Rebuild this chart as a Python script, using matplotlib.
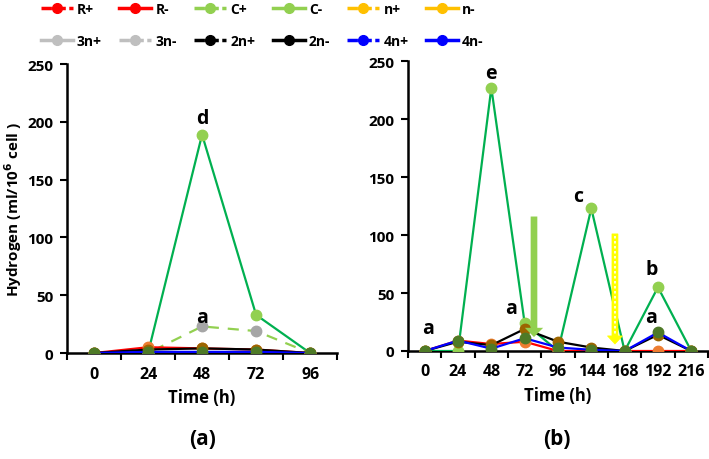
import matplotlib
matplotlib.use('Agg')
from matplotlib import pyplot as plt
from matplotlib.lines import Line2D
from matplotlib.patches import FancyArrow
import numpy as np

plt.rcParams['font.family'] = ['Open Sans', 'DejaVu Sans']
plt.rcParams['font.weight'] = 'bold'

# panel (a)
times_a = ['0', '24', '48', '72', '96']
green_a = [0, 0, 189, 33, 0]
dashed_a = [0, 0, 23, 19, 0]
red_a = [0, 5, 4, 3, 0]
black_a = [0, 3, 4, 3, 0]
blue_a = [0, 1, 1, 1, 0]

# panel (b)
times_b = ['0', '24', '48', '72', '96', '144', '168', '192', '216']
green_b = [0, 0, 227, 24, 0, 123, 0, 55, 0]
red_b = [0, 9, 6, 8, 0, 0, 0, 0, 0]
black_b = [0, 8, 5, 19, 8, 3, 0, 14, 0]
blue_b = [0, 9, 2, 11, 3, 1, 0, 16, 0]

legend_names = ['R+', 'R-', 'C+', 'C-', 'n+', 'n-', '3n+', '3n-', '2n+', '2n-', '4n+', '4n-']
legend_colors = ['#FF0000', '#FF0000', '#92D050', '#92D050', '#FFC000', '#FFC000',
                 '#BFBFBF', '#BFBFBF', '#000000', '#000000', '#0000FF', '#0000FF']
legend_dashed = [True, False, True, False, True, False, False, True, True, False, True, False]

C_LINE = '#00B050'
C_LMK = '#92D050'
C_ORANGE = '#ED7D31'
C_BROWN = '#9C6500'
C_DKGREEN = '#4E7A27'

fig = plt.figure(figsize=(7.09, 4.6), dpi=100)
ax1 = fig.add_axes([0.0945, 0.2304, 0.381, 0.628])
ax2 = fig.add_axes([0.5755, 0.2348, 0.423, 0.630])

lw = 1.6
ms = 7.5


def style(ax, labels):
    n = len(labels)
    ax.set_xlim(-0.5, n - 0.5)
    ax.set_ylim(0, 250)
    ax.set_yticks([0, 50, 100, 150, 200, 250])
    ax.set_xticks(np.arange(n + 1) - 0.5)
    ax.set_xticklabels([])
    ax.set_xticks(np.arange(n), minor=True)
    ax.set_xticklabels(labels, minor=True)
    ax.tick_params(axis='x', which='major', direction='out', length=5, width=1.5)
    ax.tick_params(axis='x', which='minor', length=0, pad=9, labelsize=11.5)
    ax.tick_params(axis='y', direction='out', length=5, width=1.5, labelsize=11, pad=5)
    for s in ['top', 'right']:
        ax.spines[s].set_visible(False)
    for s in ['left', 'bottom']:
        ax.spines[s].set_linewidth(1.8)
    for lab in ax.get_xticklabels(minor=True) + ax.get_yticklabels():
        lab.set_fontweight('bold')
    ax.set_xlabel('Time (h)', fontsize=12, fontweight='bold', labelpad=5)


xa = np.arange(len(times_a))
ax1.plot(xa, green_a, color=C_LINE, lw=lw, marker='o', ms=ms, mfc=C_LMK, mec=C_LMK, zorder=3)
ax1.plot(xa, dashed_a, color=C_LMK, lw=lw, ls=(0, (5, 4)), marker='o', ms=ms,
         mfc='#A6A6A6', mec='#A6A6A6', zorder=3)
ax1.plot(xa, red_a, color='#FF0000', lw=lw, marker='o', ms=ms, mfc=C_ORANGE, mec=C_ORANGE, zorder=4)
ax1.plot(xa, black_a, color='#000000', lw=lw, marker='o', ms=ms, mfc=C_BROWN, mec=C_BROWN, zorder=4)
ax1.plot(xa, blue_a, color='#0000FF', lw=lw, marker='o', ms=ms, mfc=C_DKGREEN, mec=C_DKGREEN, zorder=5)
style(ax1, times_a)
ax1.set_ylabel('Hydrogen (ml/10$^6$ cell )', fontsize=11, fontweight='bold', labelpad=2)
ax1.text(2, 203, 'd', ha='center', va='center', fontsize=14, fontweight='bold')
ax1.text(2, 31, 'a', ha='center', va='center', fontsize=14, fontweight='bold')

xb = np.arange(len(times_b))
ax2.plot(xb, green_b, color=C_LINE, lw=lw, marker='o', ms=ms, mfc=C_LMK, mec=C_LMK, zorder=3)
ax2.plot(xb, red_b, color='#FF0000', lw=lw, marker='o', ms=ms, mfc=C_ORANGE, mec=C_ORANGE, zorder=4)
ax2.plot(xb, black_b, color='#000000', lw=lw, marker='o', ms=ms, mfc=C_BROWN, mec=C_BROWN, zorder=4)
ax2.plot(xb, blue_b, color='#0000FF', lw=lw, marker='o', ms=ms, mfc=C_DKGREEN, mec=C_DKGREEN, zorder=5)
style(ax2, times_b)
for x, y, t in [(0.1, 20, 'a'), (2, 240, 'e'), (2.6, 37, 'a'), (4.6, 134, 'c'),
                (6.8, 71, 'b'), (6.8, 29, 'a')]:
    ax2.text(x, y, t, ha='center', va='center', fontsize=14, fontweight='bold')

ax2.add_patch(FancyArrow(3.28, 116, 0, -104, width=0.2, head_width=0.55, head_length=8,
                         length_includes_head=True, color='#92D050', lw=0, zorder=6))
ax2.add_patch(FancyArrow(5.71, 101, 0, -95, width=0.18, head_width=0.45, head_length=7,
                         length_includes_head=True, fc='#FFFF00', ec='#FFFF00', lw=0.5, zorder=6))
ax2.plot([5.71, 5.71], [99, 14], color='white', lw=1.2, ls=(0, (1.5, 1.5)), zorder=7)

fig.text(0.285, 0.045, '(a)', ha='center', va='center', fontsize=15, fontweight='bold')
fig.text(0.785, 0.045, '(b)', ha='center', va='center', fontsize=15, fontweight='bold')

# legend, column-first order
handles = []
labels = []
order = [0, 6, 1, 7, 2, 8, 3, 9, 4, 10, 5, 11]
for i in order:
    handles.append(Line2D([], [], color=legend_colors[i], lw=2.5,
                          ls=(0, (3, 1)) if legend_dashed[i] else '-',
                          marker='o', ms=7, mfc=legend_colors[i], mec=legend_colors[i]))
    labels.append(legend_names[i])
fig.legend(handles, labels, ncol=6, loc='upper left', bbox_to_anchor=(0.04, 1.02),
           frameon=False, handlelength=2.3, handletextpad=0.3,
           columnspacing=1.25, labelspacing=1.3, prop={'weight': 'bold', 'size': 10})

fig.savefig('out.png', dpi=100)
